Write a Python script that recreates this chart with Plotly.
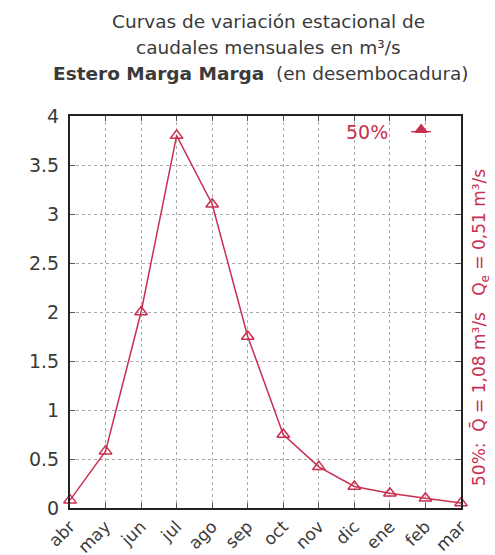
import plotly.graph_objects as go

months = ["abr", "may", "jun", "jul", "ago", "sep", "oct", "nov", "dic", "ene", "feb", "mar"]
q50 = [0.08, 0.58, 2.0, 3.8, 3.1, 1.75, 0.75, 0.42, 0.22, 0.15, 0.10, 0.05]
yticks = [0, 0.5, 1, 1.5, 2, 2.5, 3, 3.5, 4]
ytext = ["0", "0.5", "1", "1.5", "2", "2.5", "3", "3.5", "4"]

red = "#c9304f"
gray = "#3a3a3a"
FONT = "DejaVu Sans, Verdana, sans-serif"
xs = list(range(len(months)))

W, H = 495, 555
L, R, T, B = 70, 34, 116, 47
PW, PH = W - L - R, H - T - B


def px(x):
    return (x - L) / PW


def py(y):
    return (H - B - y) / PH


fig = go.Figure()
fig.add_trace(go.Scatter(
    x=xs, y=q50, mode="lines+markers", name="50%",
    line=dict(color=red, width=1.5),
    marker=dict(symbol="triangle-up-open", size=11, color=red, line=dict(width=1.5, color=red)),
    cliponaxis=False, showlegend=False,
))

fig.update_layout(
    width=W, height=H,
    margin=dict(l=L, r=R, t=T, b=B, autoexpand=False),
    paper_bgcolor="white", plot_bgcolor="white",
    font=dict(family=FONT, size=17, color=gray),
    showlegend=False,
)
common = dict(
    showline=True, linecolor="#222", linewidth=2, mirror="ticks",
    ticks="inside", ticklen=5, tickcolor="#555",
    showgrid=True, gridcolor="#aaaaaa", griddash="dot", gridwidth=1,
    zeroline=False, automargin=False,
)
fig.update_xaxes(range=[0, 11], tickvals=xs, ticktext=months, tickangle=-45,
                 tickfont=dict(family=FONT, size=17, color=gray), **common)
fig.update_yaxes(range=[0, 4], tickvals=yticks, ticktext=ytext, ticklabelstandoff=5,
                 tickfont=dict(family=FONT, size=19, color=gray), **common)

anns = [
    ("Curvas de variación estacional de", 268, 21),
    ("caudales mensuales en m³/s", 268, 47),
    ("<b>Estero Marga Marga</b>  (en desembocadura)", 261, 74),
]
for text, x, y in anns:
    fig.add_annotation(
        text=text, x=px(x), y=py(y),
        xref="paper", yref="paper", showarrow=False,
        xanchor="center", yanchor="middle",
        font=dict(family=FONT, size=18.5, color=gray),
    )
# legend-like text
fig.add_annotation(text="50%", x=px(390), y=py(132), xref="paper", yref="paper",
                   showarrow=False, xanchor="right", yanchor="middle",
                   font=dict(family=FONT, size=19, color=red))
fig.add_trace(go.Scatter(
    x=[9.6, 10.15], y=[3.84, 3.84], mode="lines",
    line=dict(color=red, width=1.5), showlegend=False, hoverinfo="skip",
))
fig.add_trace(go.Scatter(
    x=[9.88], y=[3.86], mode="markers", showlegend=False, hoverinfo="skip",
    marker=dict(symbol="triangle-up", size=10, color=red, line=dict(width=1.5, color=red)),
))
# right side rotated text
fig.add_annotation(
    text="50%:  Q̄ = 1,08 m³/s   Q<sub>e</sub> = 0,51 m³/s",
    x=px(480), y=py(328), xref="paper", yref="paper",
    showarrow=False, textangle=-90, xanchor="center", yanchor="middle",
    font=dict(family=FONT, size=17, color=red),
)

fig.write_html("out.html", config={"displayModeBar": False},
               post_script="document.body.style.margin='0px';")
